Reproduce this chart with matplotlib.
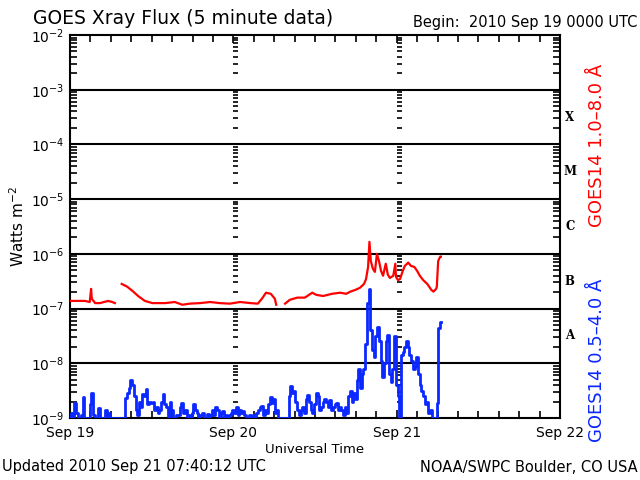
import numpy as np
import matplotlib
matplotlib.use("Agg")
from matplotlib import pyplot as plt

# GOES14 long channel (1.0-8.0 A): hours since 2010 Sep 19 00 UTC, log10(W m^-2); nan = data gap
red_hours = [0, 2.2, 2.9, 3.1, 3.2, 3.7, 4.4, 5.6, 6.2, 6.6, 7.0,
             7.6, 8.4, 9.3, 10.0, 11.0, 12.1, 14.0, 15.4, 16.5, 17.6, 19.1, 20.6, 22.0, 23.5,
             25.0, 26.5, 27.6, 28.2, 28.8, 29.5, 30.1, 30.3, 30.8,
             31.6, 32.3, 33.4, 34.5, 35.6, 36.2, 37.2, 38.5, 39.7, 40.6, 41.2, 41.9, 42.6,
             43.2, 43.5, 43.8, 44.0, 44.2, 44.5, 44.8, 45.1, 45.4, 45.7, 46.0, 46.4, 46.7,
             47.0, 47.5, 47.8, 47.9, 48.2, 48.5, 48.9, 49.2, 49.7, 50.1, 50.6, 51.0, 51.4,
             51.9, 52.5, 53.1, 53.4, 53.8, 53.9, 54.1, 54.4, 54.5]
red_log = [-6.86, -6.86, -6.88, -6.64, -6.82, -6.90, -6.90, -6.86, -6.88, -6.90, np.nan,
           -6.55, -6.60, -6.69, -6.77, -6.86, -6.90, -6.90, -6.88, -6.93, -6.91, -6.90, -6.88, -6.90, -6.91,
           -6.88, -6.90, -6.91, -6.82, -6.71, -6.73, -6.82, -6.93, np.nan,
           -6.91, -6.84, -6.80, -6.80, -6.71, -6.75, -6.77, -6.73, -6.71, -6.73, -6.69, -6.66, -6.62,
           -6.55, -6.46, -6.24, -5.78, -6.13, -6.27, -6.33, -6.00, -6.13, -6.31, -6.40, -6.18, -6.38,
           -6.44, -6.40, -6.18, -6.42, -6.48, -6.46, -6.31, -6.22, -6.16, -6.22, -6.24, -6.31, -6.40,
           -6.48, -6.55, -6.66, -6.69, -6.64, -6.60, -6.13, -6.05, -6.05]

# GOES14 short channel (0.5-4.0 A): 15 minute samples from Sep 19 00 UTC, log10(W m^-2)
blue_log = [
    -9.0, -8.9, -9.0, -8.72, -8.9, -9.0, -9.0, -8.95, -8.61, -9.0, -9.0, -9.0, -8.75, -8.54, -8.95, -9.0,
    -9.0, -8.82, -9.0, -9.0, -9.0, -8.85, -9.0, -8.9, -9.0, -9.0, -9.0, -9.0, -9.0, -9.0, -9.0, -9.0,
    -9.0, -8.63, -8.54, -8.45, -8.30, -8.39, -8.6, -8.85, -8.95, -8.7, -8.8, -8.57, -8.6, -8.47, -8.75, -8.7,
    -8.72, -8.7, -8.85, -8.8, -8.9, -8.85, -8.7, -8.56, -8.75, -8.8, -9.0, -8.7, -8.85, -9.0, -9.0, -8.95,
    -8.95, -8.8, -8.72, -8.9, -8.85, -9.0, -8.95, -9.0, -8.9, -8.75, -8.85, -8.9, -9.0, -8.95, -8.9, -9.0,
    -9.0, -8.92, -9.0, -8.95, -8.85, -8.95, -8.8, -8.85, -9.0, -8.9, -8.88, -9.0, -8.95, -9.0, -8.95, -8.9,
    -8.85, -8.9, -8.8, -8.95, -8.85, -8.9, -8.88, -8.95, -9.0, -9.0, -8.95, -9.0, -8.95, -9.0, -8.9, -8.85,
    -8.8, -8.78, -8.95, -8.85, -8.9, -8.75, -8.62, -8.72, -8.65, -8.9, -8.85, -9.0, -9.0, -9.0, -9.0, -9.0,
    -9.0, -8.6, -8.42, -8.55, -8.5, -8.7, -8.85, -8.95, -8.85, -8.8, -8.9, -8.65, -8.58, -8.7, -8.85, -8.9,
    -8.75, -8.55, -8.6, -8.85, -8.8, -8.7, -8.65, -8.7, -8.8, -8.68, -8.85, -8.8, -8.75, -8.72, -8.85, -8.8,
    -8.85, -8.95, -8.8, -8.9, -8.6, -8.5, -8.7, -8.55, -8.65, -8.3, -8.1, -8.45, -8.2, -8.1, -7.65, -6.9,
    -6.65, -7.4, -7.75, -7.88, -7.5, -7.33, -7.6, -7.95, -8.25, -8.0, -7.6, -7.48, -8.2, -8.35, -8.1, -7.51,
    -8.4, -8.6, -9.1, -7.85, -7.8, -7.7, -7.6, -7.7, -7.85, -7.95, -8.1, -8.05, -7.88, -8.2, -8.4, -8.5,
    -8.6, -8.75, -8.7, -8.9, -8.85, -9.0, -9.0, -9.0, -8.72, -7.35, -7.25,
]
blue_step = 0.25  # hours

day_hours = [0, 24, 48, 72]
day_labels = ["Sep 19", "Sep 20", "Sep 21", "Sep 22"]
decades = list(range(-9, -1))
flare_classes = ["A", "B", "C", "M", "X"]
flare_decades = [-8, -7, -6, -5, -4]

RED = "#ff0000"
BLUE = "#0a28ff"

fig = plt.figure(figsize=(6.4, 4.8), dpi=100)
ax = fig.add_axes([70 / 640, 1 - 418 / 480, 490 / 640, 383 / 480])

blue_hours = np.arange(len(blue_log)) * blue_step
ax.plot(blue_hours, 10 ** np.array(blue_log), color=BLUE, lw=2, drawstyle="steps-mid", zorder=3)
ax.plot(red_hours, 10 ** np.array(red_log), color=RED, lw=1.6, zorder=3)

ax.set_yscale("log")
ax.set_ylim(1e-9, 1e-2)
ax.set_xlim(day_hours[0], day_hours[-1])

# decade grid lines
for d in decades[1:-1]:
    ax.axhline(10.0 ** d, color="black", lw=1.5, zorder=2)

# log "ruler" marks along the inner day boundaries
for h in day_hours[1:-1]:
    for d in decades[:-1]:
        ys = [m * 10.0 ** d for m in range(1, 10)]
        ax.hlines(ys, h, h + 0.75, color="black", lw=1.2, zorder=2)

ax.set_yticks([10.0 ** d for d in decades])
ax.set_yticklabels([r"$10^{%d}$" % d for d in decades], fontsize=10)
ax.set_xticks(day_hours)
ax.set_xticklabels(day_labels, fontsize=10)
ax.set_xticks(np.arange(0, 73, 3), minor=True)
ax.tick_params(axis="both", which="both", direction="in", top=True, right=True, width=1.2)
ax.tick_params(axis="y", which="major", length=8)
ax.tick_params(axis="y", which="minor", length=5)
ax.tick_params(axis="x", which="major", length=6, pad=6)
ax.tick_params(axis="x", which="minor", length=5)
ax.tick_params(axis="y", which="major", labelright=False, pad=4)
for spine in ax.spines.values():
    spine.set_linewidth(1.5)

ax.set_ylabel(r"Watts m$^{-2}$", fontsize=11, labelpad=3)
ax.set_xlabel("Universal Time", fontsize=9.5, labelpad=2)

for cls, d in zip(flare_classes, flare_decades):
    ax.text(1.02, 10.0 ** (d + 0.5), cls, transform=ax.get_yaxis_transform(),
            ha="center", va="center", fontsize=8.5, fontweight="bold", family="DejaVu Serif")

fig.text(597 / 640, 1 - 145 / 480, "GOES14 1.0\u20138.0 \u00c5", color=RED, rotation=90,
         ha="center", va="center", fontsize=13)
fig.text(597 / 640, 1 - 360 / 480, "GOES14 0.5\u20134.0 \u00c5", color=BLUE, rotation=90,
         ha="center", va="center", fontsize=13)

fig.text(33 / 640, 1 - 18 / 480, "GOES Xray Flux (5 minute data)", ha="left", va="center", fontsize=13.5)
fig.text(637 / 640, 1 - 22 / 480, "Begin:  2010 Sep 19 0000 UTC", ha="right", va="center", fontsize=10.5)
fig.text(2 / 640, 1 - 467 / 480, "Updated 2010 Sep 21 07:40:12 UTC", ha="left", va="center", fontsize=10.5)
fig.text(638 / 640, 1 - 467 / 480, "NOAA/SWPC Boulder, CO USA", ha="right", va="center", fontsize=10.5)

fig.savefig("out.png", dpi=100)
